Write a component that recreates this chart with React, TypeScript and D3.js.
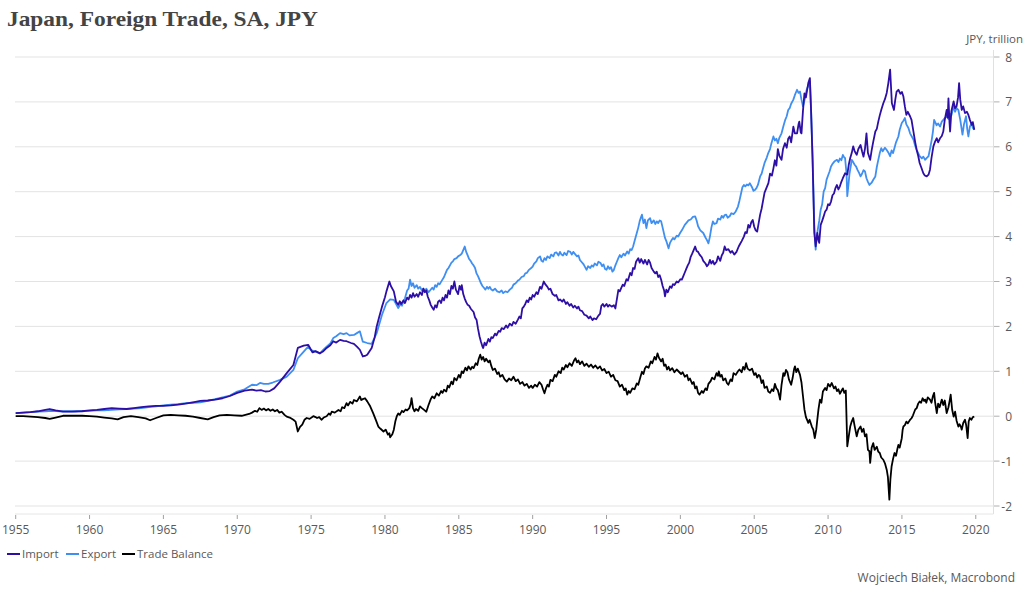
import React from 'react';
import * as d3 from 'd3';

type P = [number, number];

const IMPORT: P[] = [
  [1955.0, 0.07], [1955.5, 0.08], [1956.0, 0.09], [1956.5, 0.11], [1957.0, 0.14], [1957.3, 0.16], [1957.7, 0.13],
  [1958.2, 0.10], [1958.8, 0.10], [1959.5, 0.11], [1960.0, 0.13], [1960.5, 0.14], [1961.0, 0.16], [1961.5, 0.18],
  [1962.0, 0.17], [1962.5, 0.16], [1963.0, 0.18], [1963.5, 0.20], [1964.0, 0.22], [1964.5, 0.23], [1965.0, 0.23],
  [1965.5, 0.24], [1966.0, 0.26], [1966.5, 0.28], [1967.0, 0.31], [1967.5, 0.34], [1968.0, 0.35], [1968.5, 0.37],
  [1969.0, 0.40], [1969.5, 0.45], [1970.0, 0.52], [1970.5, 0.57], [1971.0, 0.59], [1971.3, 0.57], [1971.6, 0.58],
  [1971.9, 0.55], [1972.2, 0.56], [1972.5, 0.62], [1972.9, 0.77], [1973.35, 0.96], [1973.8, 1.14], [1974.1, 1.52],
  [1974.5, 1.57], [1974.8, 1.59], [1975.1, 1.42], [1975.3, 1.45], [1975.6, 1.40], [1975.8, 1.44], [1976.05, 1.52],
  [1976.3, 1.58], [1976.5, 1.67], [1976.7, 1.64], [1976.96, 1.70], [1977.2, 1.68], [1977.4, 1.67], [1977.7, 1.63],
  [1977.9, 1.61], [1978.1, 1.55], [1978.3, 1.48], [1978.5, 1.33], [1978.7, 1.35], [1978.8, 1.37], [1979.1, 1.52],
  [1979.3, 1.75], [1979.44, 2.0], [1979.6, 2.2], [1979.8, 2.44], [1980.0, 2.65], [1980.1, 2.78], [1980.3, 3.0],
  [1980.4, 2.90], [1980.6, 2.78], [1980.75, 2.55], [1980.9, 2.48], [1981.0, 2.56], [1981.1, 2.50], [1981.25, 2.58],
  [1981.35, 2.52], [1981.5, 2.64], [1981.6, 2.60], [1981.7, 2.70], [1981.8, 2.64], [1981.9, 2.74], [1982.0, 2.66],
  [1982.15, 2.72], [1982.25, 2.66], [1982.37, 2.76], [1982.5, 2.70], [1982.6, 2.84], [1982.7, 2.76], [1982.8, 2.80],
  [1982.9, 2.66], [1983.0, 2.58], [1983.1, 2.48], [1983.2, 2.42], [1983.3, 2.37], [1983.4, 2.47], [1983.5, 2.42],
  [1983.6, 2.55], [1983.7, 2.58], [1983.8, 2.52], [1983.9, 2.64], [1984.0, 2.58], [1984.1, 2.70], [1984.2, 2.64],
  [1984.3, 2.80], [1984.4, 2.72], [1984.5, 2.90], [1984.6, 2.84], [1984.7, 3.0], [1984.8, 2.82], [1984.95, 2.72],
  [1985.05, 2.90], [1985.15, 2.82], [1985.2, 2.92], [1985.3, 2.72], [1985.4, 2.62], [1985.5, 2.54], [1985.6, 2.48],
  [1985.7, 2.46], [1985.8, 2.40], [1985.87, 2.37], [1986.0, 2.32], [1986.1, 2.20], [1986.2, 2.15], [1986.3, 1.95],
  [1986.4, 1.78], [1986.5, 1.66], [1986.6, 1.55], [1986.65, 1.52], [1986.75, 1.64], [1986.85, 1.58], [1987.0, 1.72],
  [1987.1, 1.66], [1987.2, 1.76], [1987.3, 1.74], [1987.45, 1.84], [1987.55, 1.80], [1987.7, 1.90], [1987.8, 1.88],
  [1987.9, 1.96], [1988.05, 1.94], [1988.2, 2.02], [1988.3, 1.97], [1988.45, 2.06], [1988.6, 2.02], [1988.7, 2.10],
  [1988.85, 2.06], [1989.0, 2.15], [1989.1, 2.22], [1989.2, 2.18], [1989.3, 2.40], [1989.4, 2.44], [1989.5, 2.50],
  [1989.6, 2.58], [1989.7, 2.54], [1989.8, 2.64], [1989.9, 2.60], [1990.0, 2.70], [1990.1, 2.66], [1990.25, 2.76],
  [1990.35, 2.72], [1990.5, 2.88], [1990.6, 2.84], [1990.75, 3.0], [1990.85, 2.94], [1991.0, 2.88], [1991.1, 2.82],
  [1991.2, 2.84], [1991.35, 2.72], [1991.5, 2.68], [1991.6, 2.70], [1991.75, 2.58], [1991.85, 2.60], [1992.0, 2.55],
  [1992.1, 2.60], [1992.25, 2.50], [1992.35, 2.54], [1992.5, 2.46], [1992.6, 2.50], [1992.75, 2.42], [1992.85, 2.46],
  [1993.0, 2.40], [1993.1, 2.44], [1993.2, 2.36], [1993.35, 2.34], [1993.5, 2.26], [1993.65, 2.24], [1993.8, 2.18],
  [1993.9, 2.22], [1994.05, 2.14], [1994.15, 2.18], [1994.3, 2.16], [1994.45, 2.24], [1994.56, 2.28], [1994.65, 2.46],
  [1994.75, 2.50], [1994.85, 2.44], [1995.0, 2.50], [1995.1, 2.44], [1995.2, 2.48], [1995.35, 2.44], [1995.5, 2.47],
  [1995.6, 2.40], [1995.7, 2.60], [1995.8, 2.81], [1995.9, 2.78], [1996.0, 2.86], [1996.1, 2.93], [1996.2, 2.90],
  [1996.35, 3.05], [1996.45, 3.02], [1996.6, 3.19], [1996.7, 3.14], [1996.8, 3.30], [1996.9, 3.28], [1997.0, 3.44],
  [1997.15, 3.52], [1997.25, 3.42], [1997.35, 3.50], [1997.5, 3.40], [1997.6, 3.48], [1997.75, 3.38], [1997.85, 3.48],
  [1997.95, 3.42], [1998.05, 3.30], [1998.2, 3.22], [1998.3, 3.18], [1998.4, 3.22], [1998.5, 3.10], [1998.6, 3.14],
  [1998.7, 3.04], [1998.8, 2.90], [1998.9, 2.80], [1998.96, 2.67], [1999.05, 2.82], [1999.15, 2.76], [1999.3, 2.89],
  [1999.4, 2.86], [1999.5, 2.94], [1999.6, 2.92], [1999.75, 3.0], [1999.85, 2.98], [2000.0, 3.05], [2000.1, 3.04],
  [2000.2, 3.12], [2000.3, 3.20], [2000.4, 3.28], [2000.5, 3.36], [2000.6, 3.42], [2000.7, 3.55], [2000.8, 3.62],
  [2000.9, 3.70], [2001.0, 3.78], [2001.1, 3.68], [2001.2, 3.66], [2001.3, 3.60], [2001.45, 3.54], [2001.55, 3.46],
  [2001.7, 3.40], [2001.8, 3.34], [2001.9, 3.38], [2002.0, 3.48], [2002.1, 3.40], [2002.2, 3.46], [2002.3, 3.38],
  [2002.45, 3.44], [2002.55, 3.56], [2002.7, 3.46], [2002.8, 3.58], [2002.9, 3.64], [2003.0, 3.78], [2003.1, 3.70],
  [2003.25, 3.72], [2003.4, 3.64], [2003.5, 3.68], [2003.65, 3.60], [2003.8, 3.66], [2003.95, 3.78], [2004.05, 3.84],
  [2004.15, 3.90], [2004.3, 4.00], [2004.4, 4.10], [2004.5, 4.08], [2004.6, 4.26], [2004.7, 4.20], [2004.8, 4.32],
  [2004.9, 4.37], [2005.0, 4.22], [2005.1, 4.14], [2005.2, 4.11], [2005.3, 4.30], [2005.4, 4.49], [2005.5, 4.62],
  [2005.6, 4.80], [2005.7, 4.98], [2005.85, 5.10], [2005.96, 5.19], [2006.07, 5.40], [2006.2, 5.36], [2006.3, 5.52],
  [2006.4, 5.70], [2006.5, 5.58], [2006.6, 5.95], [2006.7, 5.80], [2006.85, 5.71], [2006.95, 5.95], [2007.08, 6.08],
  [2007.2, 5.98], [2007.3, 6.18], [2007.4, 6.23], [2007.5, 6.10], [2007.65, 6.45], [2007.75, 6.30], [2007.9, 6.30],
  [2008.0, 6.50], [2008.05, 6.56], [2008.15, 6.32], [2008.2, 6.30], [2008.3, 6.80], [2008.4, 7.19], [2008.5, 7.10],
  [2008.66, 7.42], [2008.77, 7.53], [2008.85, 6.80], [2008.95, 5.71], [2009.07, 4.08], [2009.16, 3.78], [2009.22, 3.95],
  [2009.27, 4.08], [2009.35, 3.92], [2009.4, 3.86], [2009.5, 4.26], [2009.6, 4.35], [2009.7, 4.45], [2009.8, 4.56],
  [2009.9, 4.60], [2010.0, 4.72], [2010.1, 4.70], [2010.2, 4.78], [2010.3, 4.92], [2010.4, 4.96], [2010.5, 5.08],
  [2010.6, 5.15], [2010.7, 5.05], [2010.8, 5.12], [2010.9, 5.22], [2011.0, 5.30], [2011.15, 5.41], [2011.3, 5.38],
  [2011.4, 5.60], [2011.5, 5.75], [2011.6, 5.86], [2011.7, 6.01], [2011.8, 5.90], [2011.94, 5.82], [2012.05, 5.95],
  [2012.2, 6.04], [2012.3, 5.90], [2012.4, 5.78], [2012.5, 5.96], [2012.6, 6.30], [2012.7, 5.86], [2012.85, 5.71],
  [2012.95, 5.92], [2013.05, 6.10], [2013.2, 6.34], [2013.3, 6.40], [2013.4, 6.56], [2013.5, 6.70], [2013.6, 6.82],
  [2013.74, 6.97], [2013.85, 7.06], [2013.97, 7.20], [2014.08, 7.42], [2014.2, 7.72], [2014.32, 6.97], [2014.46, 6.82],
  [2014.55, 7.05], [2014.64, 7.23], [2014.76, 7.27], [2014.9, 7.18], [2015.0, 7.22], [2015.1, 7.12], [2015.2, 6.90],
  [2015.3, 6.71], [2015.4, 6.78], [2015.55, 6.68], [2015.65, 6.60], [2015.78, 6.34], [2015.9, 6.10], [2016.0, 5.93],
  [2016.1, 5.80], [2016.2, 5.64], [2016.3, 5.55], [2016.45, 5.41], [2016.55, 5.36], [2016.68, 5.34], [2016.8, 5.38],
  [2016.9, 5.49], [2017.0, 5.75], [2017.13, 6.01], [2017.25, 6.12], [2017.36, 6.19], [2017.45, 6.10], [2017.58, 6.19],
  [2017.7, 6.24], [2017.8, 6.34], [2017.9, 6.60], [2018.03, 6.82], [2018.1, 6.65], [2018.15, 7.08], [2018.22, 6.55],
  [2018.26, 6.34], [2018.35, 6.80], [2018.5, 7.01], [2018.6, 6.86], [2018.7, 6.90], [2018.8, 7.10], [2018.87, 7.42],
  [2018.95, 7.05], [2019.05, 6.82], [2019.15, 6.90], [2019.27, 6.75], [2019.4, 6.78], [2019.5, 6.71], [2019.6, 6.60],
  [2019.73, 6.49], [2019.8, 6.55], [2019.9, 6.38],
];

const EXPORT: P[] = [
  [1955.0, 0.07], [1955.5, 0.08], [1956.0, 0.09], [1956.5, 0.10], [1957.0, 0.11], [1957.5, 0.12], [1958.0, 0.11],
  [1958.5, 0.11], [1959.0, 0.11], [1959.5, 0.12], [1960.0, 0.12], [1960.5, 0.13], [1961.0, 0.13], [1961.5, 0.14],
  [1962.0, 0.15], [1962.5, 0.16], [1963.0, 0.17], [1963.5, 0.18], [1964.0, 0.20], [1964.5, 0.22], [1965.0, 0.24],
  [1965.5, 0.26], [1966.0, 0.27], [1966.5, 0.29], [1967.0, 0.30], [1967.5, 0.31], [1968.0, 0.34], [1968.5, 0.38],
  [1969.0, 0.42], [1969.5, 0.46], [1970.0, 0.55], [1970.5, 0.60], [1970.8, 0.66], [1971.0, 0.70], [1971.3, 0.69],
  [1971.54, 0.74], [1971.8, 0.72], [1972.1, 0.72], [1972.4, 0.75], [1972.9, 0.81], [1973.35, 0.88], [1973.8, 1.03],
  [1974.1, 1.29], [1974.5, 1.44], [1974.8, 1.55], [1975.0, 1.47], [1975.3, 1.44], [1975.6, 1.40], [1975.8, 1.47],
  [1976.05, 1.55], [1976.3, 1.62], [1976.5, 1.74], [1976.7, 1.78], [1976.96, 1.85], [1977.2, 1.83], [1977.4, 1.85],
  [1977.6, 1.80], [1977.9, 1.81], [1978.1, 1.85], [1978.3, 1.89], [1978.5, 1.66], [1978.8, 1.63], [1979.1, 1.61],
  [1979.44, 1.85], [1979.8, 2.26], [1980.1, 2.52], [1980.35, 2.60], [1980.6, 2.59], [1980.9, 2.41], [1981.05, 2.50],
  [1981.15, 2.46], [1981.25, 2.56], [1981.35, 2.62], [1981.5, 2.80], [1981.6, 2.84], [1981.7, 3.04], [1981.8, 2.90],
  [1981.9, 2.96], [1982.0, 2.86], [1982.15, 2.92], [1982.25, 2.84], [1982.37, 2.88], [1982.5, 2.80], [1982.6, 2.84],
  [1982.7, 2.78], [1982.8, 2.84], [1982.95, 2.76], [1983.05, 2.80], [1983.2, 2.86], [1983.3, 2.82], [1983.4, 2.92],
  [1983.5, 2.88], [1983.6, 2.96], [1983.7, 2.94], [1983.85, 3.02], [1984.0, 3.10], [1984.1, 3.18], [1984.2, 3.26],
  [1984.3, 3.30], [1984.4, 3.36], [1984.5, 3.42], [1984.6, 3.45], [1984.7, 3.50], [1984.85, 3.52], [1984.95, 3.56],
  [1985.1, 3.59], [1985.2, 3.62], [1985.3, 3.70], [1985.4, 3.78], [1985.5, 3.66], [1985.6, 3.58], [1985.7, 3.50],
  [1985.8, 3.46], [1985.9, 3.40], [1986.0, 3.36], [1986.1, 3.30], [1986.2, 3.18], [1986.3, 3.12], [1986.4, 3.04],
  [1986.5, 2.96], [1986.6, 2.90], [1986.7, 2.86], [1986.8, 2.82], [1986.9, 2.88], [1987.0, 2.84], [1987.1, 2.88],
  [1987.2, 2.82], [1987.3, 2.80], [1987.45, 2.84], [1987.6, 2.78], [1987.75, 2.76], [1987.9, 2.80], [1988.0, 2.74],
  [1988.15, 2.78], [1988.3, 2.76], [1988.45, 2.82], [1988.6, 2.86], [1988.7, 2.93], [1988.85, 2.96], [1989.0, 3.02],
  [1989.1, 3.04], [1989.25, 3.10], [1989.4, 3.12], [1989.5, 3.18], [1989.6, 3.19], [1989.75, 3.26], [1989.9, 3.30],
  [1990.0, 3.33], [1990.1, 3.40], [1990.25, 3.45], [1990.35, 3.52], [1990.5, 3.56], [1990.6, 3.46], [1990.7, 3.44],
  [1990.8, 3.52], [1990.9, 3.48], [1991.0, 3.56], [1991.15, 3.52], [1991.25, 3.60], [1991.4, 3.56], [1991.5, 3.64],
  [1991.6, 3.65], [1991.75, 3.58], [1991.85, 3.66], [1991.95, 3.60], [1992.05, 3.58], [1992.15, 3.64], [1992.3, 3.59],
  [1992.4, 3.68], [1992.55, 3.66], [1992.65, 3.60], [1992.75, 3.66], [1992.9, 3.60], [1993.0, 3.56], [1993.1, 3.58],
  [1993.2, 3.48], [1993.3, 3.44], [1993.45, 3.38], [1993.55, 3.32], [1993.65, 3.26], [1993.75, 3.34], [1993.9, 3.30],
  [1994.0, 3.36], [1994.1, 3.33], [1994.2, 3.40], [1994.35, 3.36], [1994.45, 3.44], [1994.6, 3.41], [1994.7, 3.34],
  [1994.8, 3.38], [1994.9, 3.28], [1995.0, 3.26], [1995.1, 3.34], [1995.2, 3.28], [1995.3, 3.32], [1995.4, 3.22],
  [1995.5, 3.26], [1995.6, 3.36], [1995.7, 3.44], [1995.8, 3.52], [1995.9, 3.59], [1996.0, 3.54], [1996.15, 3.62],
  [1996.25, 3.58], [1996.4, 3.67], [1996.5, 3.62], [1996.6, 3.72], [1996.7, 3.70], [1996.8, 3.78], [1996.9, 3.90],
  [1997.05, 4.08], [1997.15, 4.20], [1997.25, 4.35], [1997.4, 4.49], [1997.5, 4.30], [1997.6, 4.38], [1997.7, 4.19],
  [1997.8, 4.36], [1997.95, 4.41], [1998.05, 4.30], [1998.2, 4.36], [1998.3, 4.28], [1998.4, 4.34], [1998.5, 4.30],
  [1998.6, 4.36], [1998.7, 4.34], [1998.8, 4.20], [1998.96, 3.97], [1999.05, 3.90], [1999.2, 3.74], [1999.3, 3.86],
  [1999.4, 3.92], [1999.5, 3.97], [1999.6, 3.94], [1999.75, 4.02], [1999.85, 4.00], [1999.98, 4.08], [2000.1, 4.14],
  [2000.2, 4.20], [2000.3, 4.26], [2000.4, 4.30], [2000.55, 4.36], [2000.7, 4.38], [2000.85, 4.44], [2001.0, 4.45],
  [2001.1, 4.36], [2001.2, 4.23], [2001.35, 4.14], [2001.55, 4.08], [2001.7, 3.98], [2001.8, 3.92], [2001.9, 3.85],
  [2002.0, 4.00], [2002.1, 4.20], [2002.2, 4.34], [2002.3, 4.28], [2002.45, 4.30], [2002.55, 4.40], [2002.7, 4.38],
  [2002.8, 4.46], [2002.9, 4.42], [2003.0, 4.48], [2003.1, 4.49], [2003.2, 4.42], [2003.35, 4.46], [2003.45, 4.52],
  [2003.6, 4.50], [2003.75, 4.56], [2003.9, 4.67], [2004.0, 4.80], [2004.1, 4.95], [2004.2, 5.10], [2004.3, 5.15],
  [2004.4, 5.12], [2004.5, 5.16], [2004.6, 5.14], [2004.7, 5.19], [2004.85, 5.10], [2004.95, 5.02], [2005.05, 5.04],
  [2005.15, 5.08], [2005.25, 5.15], [2005.4, 5.34], [2005.5, 5.40], [2005.6, 5.52], [2005.7, 5.64], [2005.85, 5.76],
  [2005.95, 5.86], [2006.07, 5.95], [2006.15, 6.06], [2006.3, 6.23], [2006.4, 6.14], [2006.5, 6.18], [2006.6, 6.08],
  [2006.7, 6.20], [2006.85, 6.30], [2006.97, 6.45], [2007.1, 6.60], [2007.2, 6.68], [2007.3, 6.82], [2007.4, 6.86],
  [2007.5, 6.96], [2007.65, 7.05], [2007.75, 7.15], [2007.9, 7.27], [2008.0, 7.20], [2008.1, 7.23], [2008.2, 7.05],
  [2008.3, 6.90], [2008.45, 7.10], [2008.55, 7.27], [2008.65, 7.35], [2008.77, 7.45], [2008.85, 6.80], [2008.95, 5.80],
  [2009.07, 4.20], [2009.16, 3.71], [2009.22, 3.95], [2009.3, 4.15], [2009.4, 4.35], [2009.5, 4.60], [2009.6, 4.72],
  [2009.7, 5.00], [2009.8, 5.08], [2009.9, 5.27], [2010.0, 5.36], [2010.1, 5.45], [2010.2, 5.56], [2010.3, 5.62],
  [2010.45, 5.68], [2010.6, 5.71], [2010.7, 5.66], [2010.8, 5.74], [2010.9, 5.70], [2011.0, 5.82], [2011.1, 5.76],
  [2011.15, 5.75], [2011.25, 5.40], [2011.3, 4.90], [2011.38, 5.15], [2011.45, 5.40], [2011.55, 5.60], [2011.6, 5.71],
  [2011.7, 5.66], [2011.8, 5.60], [2011.9, 5.56], [2012.0, 5.48], [2012.1, 5.42], [2012.2, 5.34], [2012.3, 5.40],
  [2012.4, 5.48], [2012.5, 5.45], [2012.6, 5.30], [2012.7, 5.22], [2012.8, 5.15], [2012.95, 5.20], [2013.05, 5.26],
  [2013.2, 5.34], [2013.3, 5.55], [2013.4, 5.71], [2013.5, 5.86], [2013.6, 5.97], [2013.7, 5.90], [2013.85, 5.98],
  [2013.97, 5.93], [2014.1, 5.86], [2014.2, 5.79], [2014.3, 5.92], [2014.4, 5.86], [2014.5, 5.98], [2014.6, 6.10],
  [2014.76, 6.23], [2014.85, 6.38], [2014.99, 6.53], [2015.1, 6.58], [2015.2, 6.64], [2015.3, 6.50], [2015.44, 6.42],
  [2015.55, 6.30], [2015.65, 6.24], [2015.78, 6.16], [2015.9, 6.02], [2016.0, 5.93], [2016.1, 5.86], [2016.2, 5.79],
  [2016.35, 5.74], [2016.45, 5.78], [2016.57, 5.71], [2016.7, 5.76], [2016.8, 5.79], [2016.9, 5.95], [2017.02, 6.16],
  [2017.1, 6.34], [2017.18, 6.60], [2017.25, 6.55], [2017.35, 6.48], [2017.45, 6.52], [2017.58, 6.45], [2017.7, 6.56],
  [2017.85, 6.62], [2018.03, 6.68], [2018.15, 6.62], [2018.25, 6.74], [2018.35, 6.70], [2018.5, 6.90], [2018.6, 6.78],
  [2018.7, 6.86], [2018.82, 6.82], [2018.95, 6.60], [2019.1, 6.27], [2019.2, 6.50], [2019.34, 6.68], [2019.42, 6.40],
  [2019.5, 6.23], [2019.6, 6.45], [2019.73, 6.53], [2019.8, 6.42], [2019.9, 6.38],
];

const BALANCE: P[] = [
  [1955.0, 0.0], [1955.5, 0.0], [1956.0, -0.01], [1956.5, -0.02], [1957.0, -0.04], [1957.3, -0.06], [1957.7, -0.03],
  [1958.2, 0.01], [1958.8, 0.01], [1959.5, 0.01], [1960.0, 0.0], [1960.5, -0.01], [1961.0, -0.03], [1961.5, -0.05],
  [1961.9, -0.07], [1962.3, -0.02], [1962.8, 0.0], [1963.3, -0.02], [1963.8, -0.05], [1964.1, -0.09], [1964.5, -0.04],
  [1965.0, 0.02], [1965.5, 0.03], [1966.0, 0.02], [1966.5, 0.01], [1967.0, -0.01], [1967.5, -0.04], [1968.0, -0.07],
  [1968.4, -0.02], [1968.8, 0.02], [1969.3, 0.03], [1969.8, 0.02], [1970.3, 0.01], [1970.8, 0.05], [1971.0, 0.08],
  [1971.2, 0.12], [1971.35, 0.10], [1971.5, 0.18], [1971.65, 0.14], [1971.8, 0.17], [1971.95, 0.13], [1972.1, 0.16],
  [1972.25, 0.12], [1972.4, 0.15], [1972.55, 0.11], [1972.7, 0.14], [1972.85, 0.08], [1973.0, 0.10], [1973.2, 0.03],
  [1973.35, -0.01], [1973.55, -0.03], [1973.8, -0.08], [1973.95, -0.12], [1974.1, -0.34], [1974.25, -0.24],
  [1974.4, -0.19], [1974.55, -0.08], [1974.7, -0.04], [1974.9, -0.06], [1975.15, 0.0], [1975.3, -0.02], [1975.4, -0.04],
  [1975.55, -0.02], [1975.7, -0.08], [1975.85, -0.03], [1976.05, 0.0], [1976.2, 0.06], [1976.3, 0.03], [1976.4, 0.10],
  [1976.6, 0.08], [1976.85, 0.14], [1977.0, 0.11], [1977.1, 0.20], [1977.25, 0.18], [1977.4, 0.29], [1977.5, 0.24],
  [1977.65, 0.32], [1977.8, 0.28], [1977.9, 0.36], [1978.1, 0.33], [1978.3, 0.44], [1978.4, 0.36], [1978.5, 0.38],
  [1978.65, 0.40], [1978.8, 0.33], [1979.0, 0.22], [1979.2, 0.07], [1979.4, -0.10], [1979.55, -0.23], [1979.7, -0.28],
  [1979.9, -0.34], [1980.05, -0.30], [1980.2, -0.41], [1980.3, -0.38], [1980.35, -0.47], [1980.5, -0.40],
  [1980.6, -0.30], [1980.7, -0.12], [1980.8, 0.0], [1980.9, 0.06], [1981.0, 0.03], [1981.15, 0.12], [1981.25, 0.09],
  [1981.4, 0.15], [1981.5, 0.13], [1981.65, 0.18], [1981.75, 0.28], [1981.8, 0.40], [1981.9, 0.18], [1982.0, 0.11],
  [1982.1, 0.16], [1982.25, 0.12], [1982.37, 0.22], [1982.5, 0.18], [1982.65, 0.14], [1982.8, 0.10], [1982.95, 0.25],
  [1983.1, 0.38], [1983.2, 0.44], [1983.35, 0.40], [1983.5, 0.51], [1983.65, 0.46], [1983.8, 0.56], [1983.9, 0.52],
  [1984.0, 0.59], [1984.15, 0.55], [1984.25, 0.68], [1984.35, 0.64], [1984.5, 0.77], [1984.6, 0.71], [1984.7, 0.85],
  [1984.85, 0.80], [1985.0, 0.92], [1985.1, 0.86], [1985.2, 1.00], [1985.3, 0.96], [1985.45, 1.08], [1985.55, 1.02],
  [1985.65, 1.11], [1985.8, 1.04], [1985.9, 1.10], [1986.0, 1.07], [1986.15, 1.18], [1986.25, 1.14], [1986.35, 1.28],
  [1986.45, 1.37], [1986.55, 1.26], [1986.65, 1.32], [1986.75, 1.22], [1986.85, 1.28], [1987.0, 1.20], [1987.1, 1.24],
  [1987.2, 1.12], [1987.3, 1.03], [1987.45, 1.06], [1987.6, 0.94], [1987.7, 0.98], [1987.8, 0.88], [1987.95, 0.92],
  [1988.1, 0.82], [1988.25, 0.77], [1988.4, 0.84], [1988.55, 0.80], [1988.7, 0.88], [1988.85, 0.78], [1989.0, 0.82],
  [1989.15, 0.72], [1989.3, 0.76], [1989.45, 0.68], [1989.6, 0.72], [1989.75, 0.63], [1989.9, 0.68], [1990.0, 0.63],
  [1990.15, 0.70], [1990.3, 0.66], [1990.45, 0.76], [1990.6, 0.70], [1990.7, 0.60], [1990.8, 0.51], [1990.9, 0.62],
  [1991.0, 0.70], [1991.1, 0.66], [1991.2, 0.81], [1991.35, 0.78], [1991.5, 0.92], [1991.6, 0.88], [1991.75, 1.00],
  [1991.9, 0.96], [1992.0, 1.08], [1992.1, 1.04], [1992.25, 1.14], [1992.35, 1.09], [1992.5, 1.18], [1992.65, 1.12],
  [1992.8, 1.24], [1992.9, 1.29], [1993.0, 1.20], [1993.1, 1.24], [1993.2, 1.16], [1993.35, 1.22], [1993.5, 1.12],
  [1993.65, 1.17], [1993.8, 1.10], [1993.95, 1.15], [1994.1, 1.08], [1994.25, 1.13], [1994.4, 1.06], [1994.56, 1.11],
  [1994.7, 1.02], [1994.85, 1.05], [1995.0, 0.96], [1995.15, 0.99], [1995.3, 0.88], [1995.45, 0.92], [1995.6, 0.80],
  [1995.75, 0.78], [1995.9, 0.66], [1996.05, 0.70], [1996.2, 0.58], [1996.3, 0.62], [1996.4, 0.48], [1996.5, 0.56],
  [1996.6, 0.52], [1996.75, 0.62], [1996.9, 0.60], [1997.05, 0.73], [1997.15, 0.70], [1997.3, 0.88], [1997.4, 0.99],
  [1997.5, 0.94], [1997.6, 1.06], [1997.7, 1.11], [1997.85, 1.08], [1998.0, 1.22], [1998.1, 1.18], [1998.25, 1.32],
  [1998.35, 1.26], [1998.45, 1.40], [1998.55, 1.30], [1998.7, 1.22], [1998.8, 1.28], [1998.9, 1.12], [1999.0, 1.15],
  [1999.1, 1.04], [1999.2, 1.10], [1999.3, 1.02], [1999.45, 1.07], [1999.6, 0.98], [1999.75, 1.04], [1999.9, 0.99],
  [2000.05, 0.94], [2000.15, 0.98], [2000.3, 0.88], [2000.45, 0.92], [2000.55, 0.80], [2000.65, 0.84], [2000.8, 0.72],
  [2000.9, 0.76], [2001.0, 0.62], [2001.1, 0.66], [2001.2, 0.52], [2001.3, 0.48], [2001.45, 0.56], [2001.55, 0.52],
  [2001.7, 0.62], [2001.8, 0.58], [2001.9, 0.72], [2002.05, 0.78], [2002.15, 0.86], [2002.3, 0.82], [2002.45, 0.96],
  [2002.55, 0.90], [2002.6, 1.00], [2002.7, 0.88], [2002.8, 0.92], [2002.9, 0.80], [2003.05, 0.84], [2003.15, 0.74],
  [2003.25, 0.70], [2003.4, 0.82], [2003.5, 0.78], [2003.6, 0.96], [2003.75, 0.92], [2003.9, 1.00], [2004.0, 1.04],
  [2004.15, 0.98], [2004.25, 1.10], [2004.35, 1.04], [2004.45, 1.18], [2004.55, 1.06], [2004.7, 1.02], [2004.85, 1.06],
  [2005.0, 0.92], [2005.1, 0.96], [2005.2, 0.86], [2005.3, 0.92], [2005.39, 0.89], [2005.5, 0.74], [2005.6, 0.80],
  [2005.7, 0.63], [2005.85, 0.66], [2005.95, 0.55], [2006.07, 0.52], [2006.2, 0.60], [2006.3, 0.56], [2006.4, 0.72],
  [2006.5, 0.62], [2006.6, 0.58], [2006.7, 0.45], [2006.75, 0.37], [2006.85, 0.70], [2006.97, 0.96], [2007.05, 0.90],
  [2007.15, 1.03], [2007.25, 0.98], [2007.35, 0.82], [2007.5, 0.70], [2007.6, 0.85], [2007.7, 1.05], [2007.76, 1.11],
  [2007.85, 0.98], [2007.95, 1.06], [2008.1, 0.92], [2008.2, 0.75], [2008.3, 0.45], [2008.4, 0.15], [2008.5, -0.02],
  [2008.6, -0.10], [2008.66, -0.15], [2008.75, -0.08], [2008.9, -0.23], [2009.0, -0.30], [2009.1, -0.49], [2009.2, -0.30],
  [2009.27, -0.08], [2009.35, 0.15], [2009.45, 0.37], [2009.55, 0.30], [2009.65, 0.55], [2009.8, 0.63], [2009.9, 0.58],
  [2010.0, 0.72], [2010.13, 0.66], [2010.25, 0.74], [2010.4, 0.62], [2010.5, 0.66], [2010.6, 0.56], [2010.7, 0.60],
  [2010.8, 0.50], [2010.9, 0.56], [2011.0, 0.62], [2011.1, 0.52], [2011.2, 0.57], [2011.3, -0.67], [2011.4, -0.45],
  [2011.5, -0.23], [2011.6, -0.12], [2011.7, -0.04], [2011.8, -0.22], [2011.94, -0.45], [2012.05, -0.30], [2012.2, -0.23],
  [2012.3, -0.35], [2012.4, -0.28], [2012.5, -0.45], [2012.6, -0.40], [2012.7, -0.75], [2012.8, -0.78], [2012.85, -1.04],
  [2012.95, -0.70], [2013.06, -0.60], [2013.15, -0.75], [2013.3, -0.68], [2013.4, -0.79], [2013.5, -0.82], [2013.6, -0.92],
  [2013.74, -0.97], [2013.85, -1.05], [2013.97, -1.19], [2014.05, -1.35], [2014.15, -1.86], [2014.22, -1.40],
  [2014.3, -1.12], [2014.4, -0.95], [2014.5, -0.82], [2014.6, -0.88], [2014.7, -0.72], [2014.76, -0.64], [2014.85, -0.70],
  [2014.99, -0.49], [2015.05, -0.30], [2015.1, -0.23], [2015.2, -0.20], [2015.3, -0.12], [2015.4, -0.16], [2015.55, -0.08],
  [2015.66, -0.04], [2015.75, 0.02], [2015.9, 0.15], [2016.0, 0.18], [2016.1, 0.28], [2016.2, 0.33], [2016.3, 0.30],
  [2016.4, 0.40], [2016.5, 0.34], [2016.57, 0.37], [2016.65, 0.30], [2016.75, 0.42], [2016.9, 0.37], [2017.0, 0.30],
  [2017.1, 0.45], [2017.18, 0.52], [2017.25, 0.30], [2017.36, 0.07], [2017.45, 0.28], [2017.55, 0.20], [2017.7, 0.37],
  [2017.8, 0.25], [2017.9, 0.35], [2018.03, 0.07], [2018.15, 0.20], [2018.25, 0.38], [2018.3, 0.48], [2018.4, 0.15],
  [2018.5, -0.01], [2018.6, 0.10], [2018.7, -0.10], [2018.82, -0.23], [2018.9, -0.18], [2019.0, -0.24], [2019.05, -0.30],
  [2019.15, -0.15], [2019.27, -0.08], [2019.35, -0.20], [2019.45, -0.49], [2019.52, -0.12], [2019.6, -0.04],
  [2019.7, -0.08], [2019.8, -0.02], [2019.9, -0.01],
];

const X_TICKS = [1955, 1960, 1965, 1970, 1975, 1980, 1985, 1990, 1995, 2000, 2005, 2010, 2015, 2020];
const Y_TICKS = [-2, -1, 0, 1, 2, 3, 4, 5, 6, 7, 8];

const SERIES = [
  { name: 'Import', data: IMPORT, color: '#2d0fa6' },
  { name: 'Export', data: EXPORT, color: '#3f8ff2' },
  { name: 'Trade Balance', data: BALANCE, color: '#000000' },
];

const SANS = '"Open Sans", "Noto Sans", sans-serif';

export default function App() {
  const W = 1024;
  const H = 594;
  const x = d3.scaleLinear().domain([1955, 2021.2]).range([15.7, 993.5]);
  const y = d3.scaleLinear().domain([-2, 8]).range([506, 57]);
  const line = d3.line<P>().x((d) => x(d[0])).y((d) => y(d[1]));
  const left = 15;
  const right = 993.5;
  const axisY = 514;

  const drawOrder = [SERIES[1], SERIES[0], SERIES[2]];

  const legendItems = [
    { s: SERIES[0], lx: 7 },
    { s: SERIES[1], lx: 66 },
    { s: SERIES[2], lx: 122 },
  ];

  return (
    <svg width={W} height={H} style={{ position: 'absolute', left: 0, top: 0, background: '#fff' }}>
      <rect x={0} y={0} width={W} height={H} fill="#fff" />
      <text
        x={7}
        y={26}
        fontFamily='"Liberation Serif", "DejaVu Serif", serif'
        fontWeight="bold"
        fontSize={21}
        fill="#444"
        textLength={311}
        lengthAdjust="spacingAndGlyphs"
      >
        Japan, Foreign Trade, SA, JPY
      </text>
      <text x={1023} y={43} textAnchor="end" fontFamily={SANS} fontSize={11.5} fill="#595959">
        JPY, trillion
      </text>
      {Y_TICKS.map((t) => (
        <g key={'y' + t}>
          <line x1={left} x2={right} y1={y(t)} y2={y(t)} stroke="#e3e3e3" strokeWidth={1} />
          <line x1={right} x2={right + 6} y1={y(t)} y2={y(t)} stroke="#b0b0b0" strokeWidth={1} />
          <text x={1012} y={y(t) + 4.5} textAnchor="end" fontFamily={SANS} fontSize={12} fill="#595959">
            {t < 0 ? '-' + Math.abs(t) : t}
          </text>
        </g>
      ))}
      <line x1={right} x2={right} y1={50} y2={axisY} stroke="#e0e0e0" strokeWidth={1} />
      <line x1={left} x2={right} y1={axisY} y2={axisY} stroke="#e6e6e6" strokeWidth={1} />
      {X_TICKS.map((t) => (
        <g key={'x' + t}>
          <line x1={x(t)} x2={x(t)} y1={axisY + 1} y2={axisY + 5} stroke="#a0a0a0" strokeWidth={1} />
          <text x={x(t)} y={534} textAnchor="middle" fontFamily={SANS} fontSize={12} fill="#595959">
            {t}
          </text>
        </g>
      ))}
      {drawOrder.map((s) => (
        <path
          key={s.name}
          d={line(s.data) || ''}
          fill="none"
          stroke={s.color}
          strokeWidth={1.8}
          strokeLinejoin="round"
        />
      ))}
      {legendItems.map(({ s, lx }) => (
        <g key={'lg' + s.name}>
          <line x1={lx} x2={lx + 13} y1={554} y2={554} stroke={s.color} strokeWidth={2} />
          <text x={lx + 15} y={558} fontFamily={SANS} fontSize={11.5} fill="#595959">
            {s.name}
          </text>
        </g>
      ))}
      <text x={1015} y={582} textAnchor="end" fontFamily={SANS} fontSize={12} fill="#595959">
        Wojciech Białek, Macrobond
      </text>
    </svg>
  );
}
